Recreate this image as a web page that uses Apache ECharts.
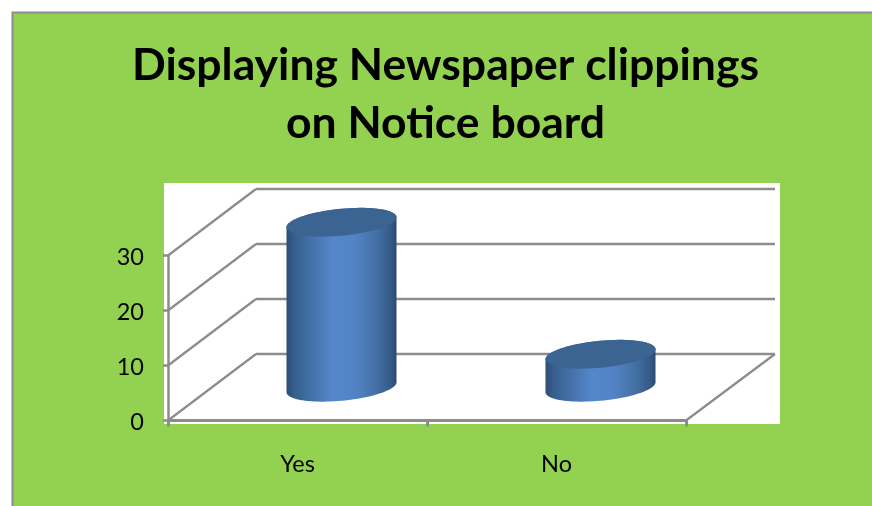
<!DOCTYPE html>
<html>
<head>
<meta charset="utf-8">
<style>html,body{margin:0;padding:0;background:#fff}#c{width:872px;height:506px}</style>
<script src="https://cdn.jsdelivr.net/npm/echarts@6/dist/echarts.min.js"></script>
</head>
<body>
<div id="c"></div>
<script>
const categories = ['Yes', 'No'];
const values = [30, 6];
const yTicks = [0, 10, 20, 30];
const titleText = 'Displaying Newspaper clippings\non Notice board';

const GRAY = '#8c8c8c';
const DX = 88, DY = -66.5;          // depth of the 3D floor
const A = 55, B = 13.5, K = 5;      // cylinder ellipse: half width, half height, tilt

function ellipsePts(cx, cy, from, to) {
  const pts = [], n = 48;
  for (let i = 0; i <= n; i++) {
    const t = from + (to - from) * i / n;
    pts.push([cx + A * Math.cos(t), cy + B * Math.sin(t) - K * Math.cos(t)]);
  }
  return pts;
}

const chart = echarts.init(document.getElementById('c'), null, {renderer: 'canvas'});
chart.setOption({
  animation: false,
  backgroundColor: '#fff',
  graphic: [
    {type: 'rect', z: 0, silent: true, shape: {x: 12.5, y: 12.5, width: 870, height: 500},
      style: {fill: '#92D250', stroke: GRAY, lineWidth: 2}},
    {type: 'rect', z: 0, silent: true, shape: {x: 164, y: 183, width: 616, height: 241},
      style: {fill: '#fff'}}
  ],
  title: {
    text: titleText, left: 440.5, top: 32, textAlign: 'center',
    textStyle: {fontFamily: 'Lato', fontWeight: 'bold', fontSize: 44.5, lineHeight: 58, color: '#000'}
  },
  grid: {left: 168, top: 255.5, width: 518, height: 165},
  xAxis: {
    type: 'category', data: categories,
    axisLine: {lineStyle: {color: GRAY, width: 3}},
    axisTick: {show: true, alignWithLabel: false, length: 6, lineStyle: {color: GRAY, width: 3}},
    axisLabel: {fontFamily: 'Lato', fontSize: 23.5, color: '#000', margin: 32}
  },
  yAxis: {
    type: 'value', min: 0, max: 30, interval: 10,
    splitLine: {show: false},
    axisLine: {show: true, lineStyle: {color: GRAY, width: 2.5}},
    axisTick: {show: true, length: 5, lineStyle: {color: GRAY, width: 2.5}},
    axisLabel: {fontFamily: 'Lato', fontSize: 23.5, color: '#000', margin: 24, verticalAlign: 'top', lineHeight: 4}
  },
  series: [
    {
      type: 'custom', name: 'walls', silent: true, clip: false, z: 2,
      data: yTicks.map(v => [0, v]),
      renderItem(params, api) {
        const cs = params.coordSys;
        const y = api.coord([0, api.value(1)])[1];
        const left = cs.x, right = cs.x + cs.width;
        const children = [
          {type: 'line', shape: {x1: left, y1: y, x2: left + DX, y2: y + DY},
            style: {stroke: GRAY, lineWidth: 2.2}},
          {type: 'line', shape: {x1: left + DX, y1: y + DY, x2: right + DX + 1, y2: y + DY},
            style: {stroke: GRAY, lineWidth: 2.6}}
        ];
        if (api.value(1) === 0) {
          children.push({type: 'line', shape: {x1: right, y1: y, x2: right + DX + 1, y2: y + DY},
            style: {stroke: GRAY, lineWidth: 2.2}});
        }
        return {type: 'group', children};
      }
    },
    {
      type: 'custom', name: 'values', silent: true, clip: false, z: 3,
      data: values.map((v, i) => [i, v]),
      renderItem(params, api) {
        const i = api.value(0), v = api.value(1);
        const base = api.coord([i, 0]), top = api.coord([i, v]);
        const cx = base[0] + DX / 2, yb = base[1] + DY / 2, yt = top[1] + DY / 2;
        const lower = ellipsePts(cx, yb, 0, Math.PI);
        const upper = ellipsePts(cx, yt, Math.PI, 2 * Math.PI);
        const body = new echarts.graphic.LinearGradient(0, 0, 1, 0, [
          {offset: 0, color: '#2c4d76'},
          {offset: 0.08, color: '#37608f'},
          {offset: 0.25, color: '#4673ad'},
          {offset: 0.42, color: '#5487cc'},
          {offset: 0.62, color: '#5283c4'},
          {offset: 0.82, color: '#4470a4'},
          {offset: 0.95, color: '#345a86'},
          {offset: 1, color: '#2c4b70'}
        ]);
        return {type: 'group', children: [
          {type: 'polygon', shape: {points: lower.concat(upper)}, style: {fill: body}},
          {type: 'polygon', shape: {points: ellipsePts(cx, yt, 0, 2 * Math.PI)},
            style: {fill: '#3c6493'}}
        ]};
      }
    }
  ]
});
</script>
</body>
</html>
